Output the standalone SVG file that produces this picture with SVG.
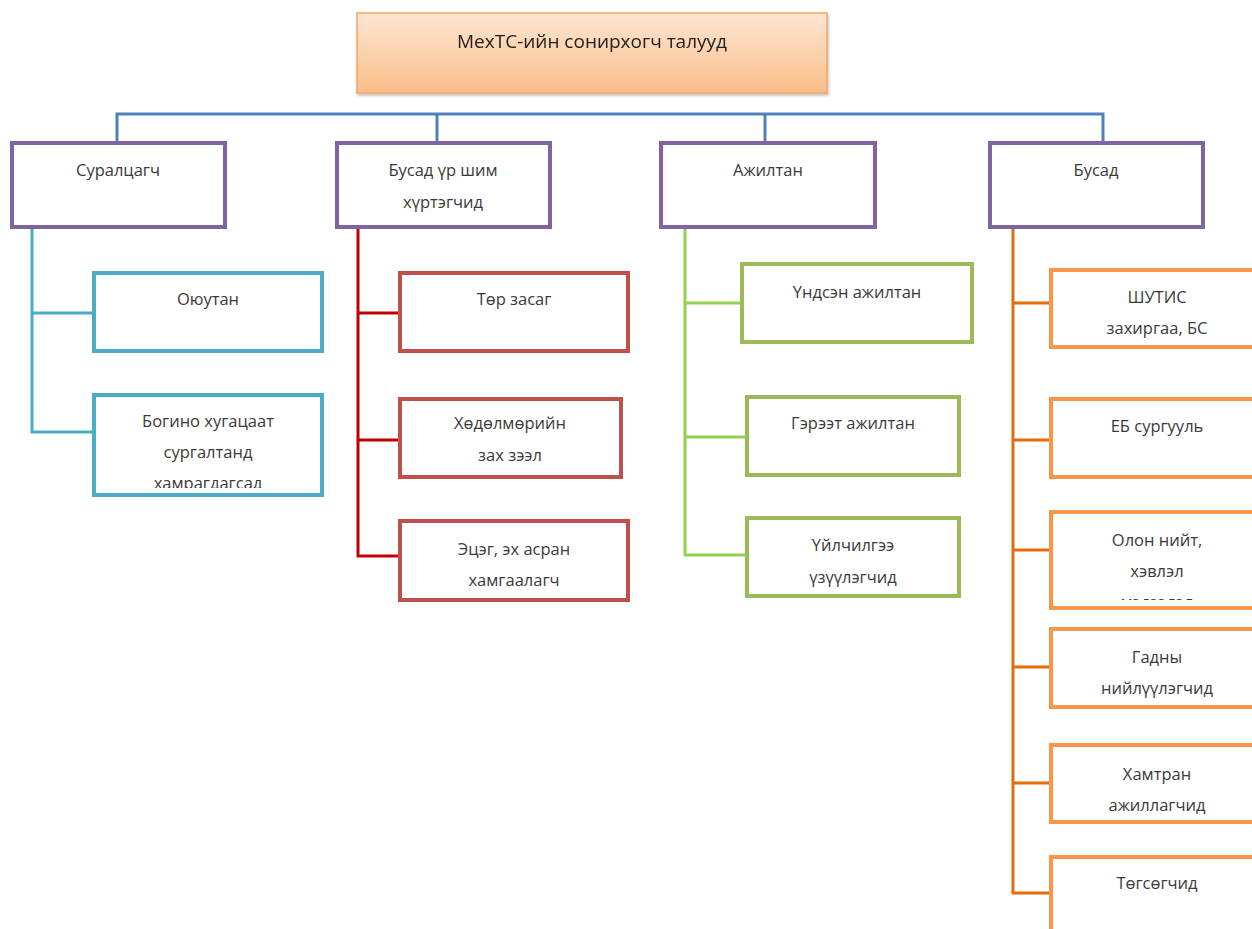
<svg xmlns="http://www.w3.org/2000/svg" width="1252" height="929" viewBox="0 0 1252 929">
<style>
text{font-family:"Open Sans","Liberation Sans",sans-serif;font-size:16.5px;fill:#3a3a3a;text-anchor:middle}
.title{font-size:19px;fill:#222}
.box{fill:#fff;stroke-width:4}
.p{stroke:#8064a2}
.c{stroke:#4bacc6}
.r{stroke:#c0504d}
.g{stroke:#9bbb59}
.o{stroke:#f79646}
.ln{fill:none;stroke-width:3}
</style>
<defs>
<linearGradient id="tg" x1="0" y1="0" x2="0" y2="1">
<stop offset="0" stop-color="#fde6d3"/>
<stop offset="1" stop-color="#fbbd88"/>
</linearGradient>
<filter id="sh" x="-5%" y="-5%" width="110%" height="115%">
<feDropShadow dx="1" dy="2" stdDeviation="1.5" flood-color="#000" flood-opacity="0.25"/>
</filter>
<clipPath id="cl1"><rect x="96" y="397" width="224" height="91"/></clipPath>
<clipPath id="cl2"><rect x="1053" y="514" width="210" height="86"/></clipPath>
</defs>
<g id="connectors">
<path class="ln" stroke="#4f81bd" stroke-width="4" d="M117,143 V114 H1103 V143 M437,114 V143 M765,114 V143"/>
<path class="ln" stroke="#4bacc6" d="M32,227 V432 H94 M32,313 H94"/>
<path class="ln" stroke="#c00000" d="M358,227 V556 H400 M358,313 H400 M358,440 H400"/>
<path class="ln" stroke="#92d050" d="M685,227 V555 H747 M685,303 H742 M685,437 H747"/>
<path class="ln" stroke="#e46c0a" d="M1013,227 V893 H1051 M1013,303 H1051 M1013,440 H1051 M1013,550 H1051 M1013,667 H1051 M1013,783 H1051"/>
</g>
<g id="root" filter="url(#sh)">
<rect x="357" y="13" width="470" height="80" fill="url(#tg)" stroke="#f5a463" stroke-width="1.5"/>
<text class="title" x="592" y="48">МехТС-ийн сонирхогч талууд</text>
</g>
<g id="n-suraltsagch"><rect class="box p" x="12" y="143" width="213" height="84"/><text x="118" y="176">Суралцагч</text></g>
<g id="n-busad-ur"><rect class="box p" x="337" y="143" width="213" height="84"/><text x="443" y="176">Бусад үр шим</text><text x="443" y="208">хүртэгчид</text></g>
<g id="n-ajiltan"><rect class="box p" x="661" y="143" width="214" height="84"/><text x="768" y="176">Ажилтан</text></g>
<g id="n-busad"><rect class="box p" x="990" y="143" width="213" height="84"/><text x="1096" y="176">Бусад</text></g>

<g id="n-oyutan"><rect class="box c" x="94" y="273" width="228" height="78"/><text x="208" y="305">Оюутан</text></g>
<g id="n-bogino"><rect class="box c" x="94" y="395" width="228" height="100"/><g clip-path="url(#cl1)"><text x="208" y="427">Богино хугацаат</text><text x="208" y="458">сургалтанд</text><text x="208" y="489">хамрагдагсад</text></g></g>

<g id="n-tor"><rect class="box r" x="400" y="273" width="228" height="78"/><text x="514" y="305">Төр засаг</text></g>
<g id="n-khodolmor"><rect class="box r" x="400" y="399" width="221" height="78"/><text x="510" y="429">Хөдөлмөрийн</text><text x="510" y="461">зах зээл</text></g>
<g id="n-etseg"><rect class="box r" x="400" y="521" width="228" height="79"/><text x="514" y="555">Эцэг, эх асран</text><text x="514" y="586">хамгаалагч</text></g>

<g id="n-undsen"><rect class="box g" x="742" y="264" width="230" height="78"/><text x="857" y="298">Үндсэн ажилтан</text></g>
<g id="n-gereet"><rect class="box g" x="747" y="397" width="212" height="78"/><text x="853" y="429">Гэрээт ажилтан</text></g>
<g id="n-uilchilgee"><rect class="box g" x="747" y="518" width="212" height="78"/><text x="853" y="551">Үйлчилгээ</text><text x="853" y="583">үзүүлэгчид</text></g>

<g id="n-shutis"><rect class="box o" x="1051" y="270" width="220" height="77"/><text x="1157" y="303">ШУТИС</text><text x="1157" y="334">захиргаа, БС</text></g>
<g id="n-eb"><rect class="box o" x="1051" y="399" width="220" height="78"/><text x="1157" y="432">ЕБ сургууль</text></g>
<g id="n-olon"><rect class="box o" x="1051" y="512" width="220" height="96"/><g clip-path="url(#cl2)"><text x="1157" y="546">Олон нийт,</text><text x="1157" y="577">хэвлэл</text><text x="1157" y="608">мэдээлэл</text></g></g>
<g id="n-gadny"><rect class="box o" x="1051" y="629" width="220" height="78"/><text x="1157" y="663">Гадны</text><text x="1157" y="694">нийлүүлэгчид</text></g>
<g id="n-khamtran"><rect class="box o" x="1051" y="745" width="220" height="77"/><text x="1157" y="780">Хамтран</text><text x="1157" y="811">ажиллагчид</text></g>
<g id="n-togsogchid"><rect class="box o" x="1051" y="857" width="220" height="100"/><text x="1157" y="889">Төгсөгчид</text></g>
</svg>
